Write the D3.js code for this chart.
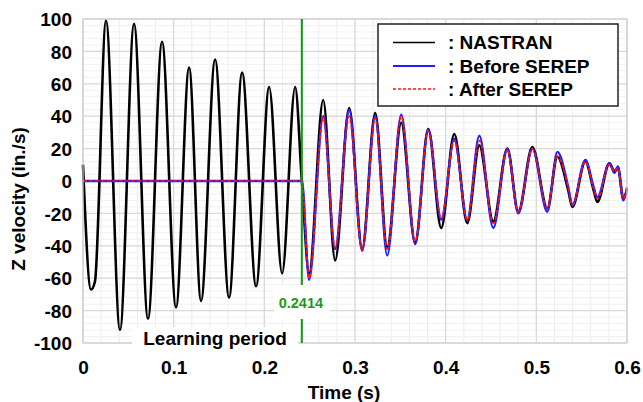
<!DOCTYPE html>
<html><head><meta charset="utf-8">
<script src="https://cdn.jsdelivr.net/npm/d3@7"></script>
<style>
html,body{margin:0;padding:0;background:#fff;}
svg text{font-family:"Liberation Sans",Arial,sans-serif;font-weight:bold;}
</style></head>
<body>
<svg id="chart" width="643" height="402"></svg>
<script>
// ---- data ----
const xTicks = [0, 0.1, 0.2, 0.3, 0.4, 0.5, 0.6];
const yTicks = [-100, -80, -60, -40, -20, 0, 20, 40, 60, 80, 100];
const splitTime = 0.2414;
const splitLabel = "0.2414";

// NASTRAN response during learning period
const learnT = [0, 0.0088, 0.0132, 0.0254, 0.0408, 0.0563, 0.0717, 0.0872, 0.1026, 0.1170, 0.1302, 0.1457, 0.1611, 0.1755, 0.1909, 0.2053, 0.2196, 0.2340];
const learnNastran = [10, -67, -62, 99, -92, 97, -85, 86, -78, 70, -74, 75, -72, 67, -65, 58, -57, 58];
// SEREP predictions are zero during learning period
const learnSerepT = [0, 0.2414];
const learnSerep = [0, 0];

// test period (after 0.2414)
const testT = [0.2414, 0.2494, 0.2649, 0.2781, 0.2936, 0.3079, 0.3223, 0.3355, 0.3510, 0.3664, 0.3808, 0.3951, 0.4095, 0.4238, 0.4371, 0.4525, 0.4680, 0.4801, 0.4956, 0.5121, 0.5232, 0.5353, 0.5397, 0.5541, 0.5629, 0.5673, 0.5806, 0.5862, 0.5900, 0.5960, 0.6000];
const testNastran = [0, -57, 50, -49, 45, -42, 42, -41, 36, -38, 32, -29, 29, -26, 22, -25, 20, -19, 21, -17, 15, -6, -16, 12, -5, -13, 11, 6, 8, -11, -5];
const testBefore  = [0, -61, 40, -42, 44, -43, 40, -46, 41, -39, 32, -24, 26, -24, 28, -29, 20, -20, 20, -19, 18, -4, -15, 13, -3, -10, 11, 5, 9, -12, -4];
const testAfter   = [0, -60, 39, -41, 40, -43, 39, -42, 40, -37, 31, -23, 25, -24, 25, -26, 19, -19, 20, -17, 15, -4, -15, 12, -4, -11, 10, 6, 8, -11, -5];

const legendNames = [": NASTRAN", ": Before SEREP", ": After SEREP"];

// ---- drawing ----
const svg = d3.select("#chart");
const x = d3.scaleLinear().domain([0, 0.6]).range([83, 627]);
const y = d3.scaleLinear().domain([-100, 100]).range([343, 19]);

const g = svg.append("g");

// minor grid
const xMinor = d3.range(0, 0.6001, 0.02);
const yMinor = d3.range(-100, 100.001, 4);
g.append("g").selectAll("line").data(xMinor).join("line")
  .attr("x1", d => x(d)).attr("x2", d => x(d)).attr("y1", y(-100)).attr("y2", y(100))
  .attr("stroke", "#ececec").attr("stroke-width", 1);
g.append("g").selectAll("line").data(yMinor).join("line")
  .attr("y1", d => y(d)).attr("y2", d => y(d)).attr("x1", x(0)).attr("x2", x(0.6))
  .attr("stroke", "#f1f1f1").attr("stroke-width", 1);
// major grid
g.append("g").selectAll("line").data(xTicks).join("line")
  .attr("x1", d => x(d)).attr("x2", d => x(d)).attr("y1", y(-100)).attr("y2", y(100))
  .attr("stroke", "#d9d9d9").attr("stroke-width", 1.2);
g.append("g").selectAll("line").data(yTicks).join("line")
  .attr("y1", d => y(d)).attr("y2", d => y(d)).attr("x1", x(0)).attr("x2", x(0.6))
  .attr("stroke", "#d9d9d9").attr("stroke-width", 1.2);

// axes (labels only)
const xAxis = d3.axisBottom(x).tickValues(xTicks).tickFormat(d => String(d)).tickSize(0).tickPadding(0);
const xa = svg.append("g").call(xAxis);
xa.select(".domain").remove();
xa.selectAll("text").attr("y", 374).attr("dy", null).attr("font-size", 19).attr("fill", "#000");

const yAxis = d3.axisLeft(y).tickValues(yTicks).tickFormat(d => String(d)).tickSize(0).tickPadding(0);
const ya = svg.append("g").call(yAxis);
ya.select(".domain").remove();
ya.selectAll("text").attr("x", 72).attr("dy", "0.35em").attr("font-size", 19).attr("fill", "#000").attr("text-anchor", "end");

// axis titles
svg.append("text").attr("x", 344).attr("y", 399).attr("text-anchor", "middle")
  .attr("font-size", 19).text("Time (s)");
svg.append("text").attr("transform", "translate(25,199) rotate(-90)").attr("text-anchor", "middle")
  .attr("font-size", 19).text("Z velocity (in./s)");

// data lines
const line = d3.line().x(d => x(d[0])).y(d => y(d[1])).curve(d3.curveMonotoneX);
const nastranPts = learnT.map((t, i) => [t, learnNastran[i]]).concat(testT.map((t, i) => [t, testNastran[i]]));
const beforePts = learnSerepT.map((t, i) => [t, learnSerep[i]]).concat(testT.slice(1).map((t, i) => [t, testBefore[i + 1]]));
const afterPts = learnSerepT.map((t, i) => [t, learnSerep[i]]).concat(testT.slice(1).map((t, i) => [t, testAfter[i + 1]]));

const lines = svg.append("g").attr("fill", "none").attr("stroke-linejoin", "round");
lines.append("path").attr("d", line(nastranPts)).attr("stroke", "#000").attr("stroke-width", 2.6);
lines.append("path").attr("d", line(beforePts)).attr("stroke", "#1f1fff").attr("stroke-width", 2.3);
lines.append("path").attr("d", line(afterPts)).attr("stroke", "#ff1010").attr("stroke-width", 1.7).attr("stroke-dasharray", "4,2");

// plot border
svg.append("rect").attr("x", x(0)).attr("y", y(100)).attr("width", x(0.6) - x(0)).attr("height", y(-100) - y(100))
  .attr("fill", "none").attr("stroke", "#d0d0d0").attr("stroke-width", 1.2);

// split line
const sx = x(splitTime);
svg.append("line").attr("x1", sx).attr("x2", sx).attr("y1", y(100)).attr("y2", y(-100))
  .attr("stroke", "#159a15").attr("stroke-width", 2);
svg.append("rect").attr("x", sx - 28).attr("y", 285).attr("width", 56).attr("height", 34).attr("fill", "#fff");
svg.append("text").attr("x", sx - 1).attr("y", 303).attr("dy", "0.35em").attr("text-anchor", "middle")
  .attr("font-size", 14.5).attr("fill", "#1a9a1a").text(splitLabel);

// learning period label
svg.append("rect").attr("x", 132).attr("y", 327).attr("width", 166).attr("height", 26).attr("fill", "#fff");
svg.append("text").attr("x", 215).attr("y", 345).attr("text-anchor", "middle")
  .attr("font-size", 19).attr("fill", "#000").text("Learning period");

// legend
const leg = svg.append("g");
leg.append("rect").attr("x", 378).attr("y", 24).attr("width", 240).attr("height", 82)
  .attr("fill", "#fff").attr("stroke", "#222").attr("stroke-width", 1.5);
const legStyles = [
  {stroke: "#000", w: 1.6, dash: null},
  {stroke: "#1f1fff", w: 2, dash: null},
  {stroke: "#ff1010", w: 1.4, dash: "3,2"}
];
const legRowY = [42.5, 66, 89];
legendNames.forEach((name, i) => {
  leg.append("line").attr("x1", 393).attr("x2", 435).attr("y1", legRowY[i]).attr("y2", legRowY[i])
    .attr("stroke", legStyles[i].stroke).attr("stroke-width", legStyles[i].w)
    .attr("stroke-dasharray", legStyles[i].dash);
  leg.append("text").attr("x", 448).attr("y", legRowY[i]).attr("dy", "0.35em")
    .attr("font-size", 19).attr("fill", "#000").text(name);
});
</script>
</body></html>
